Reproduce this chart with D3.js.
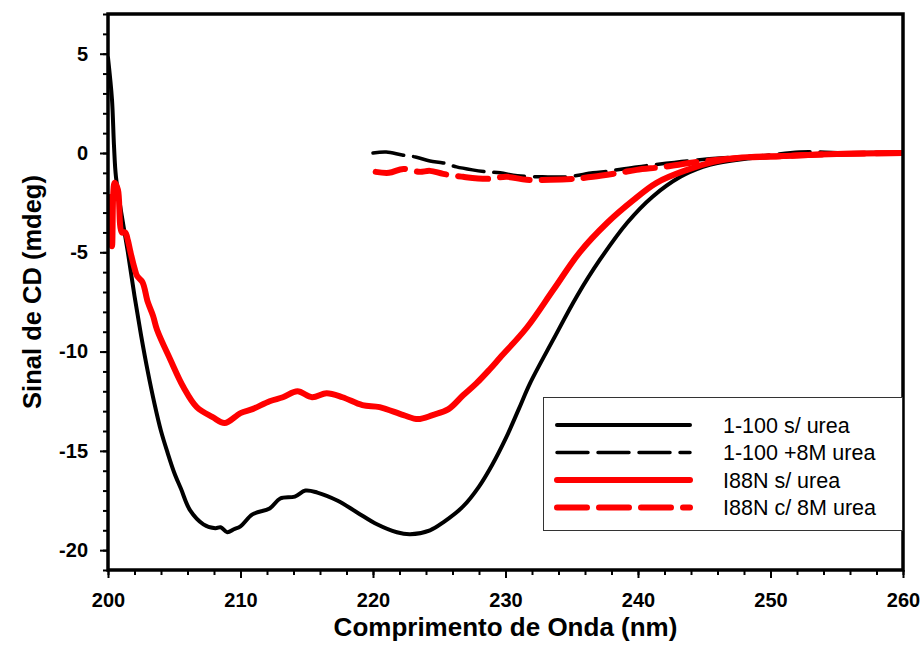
<!DOCTYPE html>
<html>
<head>
<meta charset="utf-8">
<script src="https://cdn.jsdelivr.net/npm/d3@7"></script>
<style>
  body { margin: 0; background: #fff; }
  svg { display: block; font-family: Arial, "Liberation Sans", sans-serif; }
</style>
</head>
<body>
<svg width="920" height="662"></svg>
<script>
// 1-100 s/ urea
const wt = [
  [200.0, 4.8], [200.3, 2.7], [200.45, 0.4], [200.6, -1.2], [201.0, -3.0], [201.5, -5.0],
  [202.0, -7.2], [202.5, -9.2], [203.0, -11.0], [203.5, -12.6], [204.0, -14.0], [204.5, -15.1],
  [205.0, -16.1], [205.5, -16.9], [206.2, -18.0], [207.2, -18.7], [208.1, -18.9], [208.5, -18.85],
  [209.0, -19.1], [209.5, -18.95], [210.0, -18.8], [210.9, -18.2], [212.2, -17.9], [213.0, -17.4],
  [214.1, -17.3], [214.9, -17.0], [215.8, -17.1], [217.3, -17.5], [218.8, -18.1], [220.3, -18.7],
  [221.8, -19.1], [222.8, -19.2], [224.3, -19.0], [225.3, -18.6], [226.8, -17.8], [228.0, -16.8],
  [229.0, -15.7], [230.0, -14.4], [231.0, -12.9], [231.85, -11.6], [233.6, -9.4], [235.4, -7.2],
  [237.1, -5.4], [239.2, -3.5], [241.1, -2.2], [243.2, -1.2], [244.9, -0.7], [246.0, -0.5],
  [248.0, -0.3], [250.0, -0.2], [253.0, -0.1], [256.0, 0.0], [260.0, 0.0]
];
// 1-100 +8M urea
const wtUrea = [
  [220.0, 0.0], [221.0, 0.05], [222.2, -0.1], [223.2, -0.2], [224.3, -0.4], [225.3, -0.5],
  [226.3, -0.7], [227.5, -0.85], [228.6, -0.95], [229.6, -1.0], [230.9, -1.15], [232.8, -1.2],
  [234.6, -1.2], [236.6, -1.0], [237.9, -0.9], [239.9, -0.7], [241.1, -0.6], [243.7, -0.4],
  [246.2, -0.25], [249.2, -0.15], [252.2, 0.05], [256.2, 0.0], [260.0, 0.0]
];
// I88N s/ urea
const mut = [
  [200.0, -2.2], [200.15, -3.5], [200.3, -4.7], [200.5, -1.5], [200.75, -1.85], [201.05, -4.0],
  [201.3, -4.0], [201.5, -4.4], [201.7, -5.0], [202.0, -5.8], [202.2, -6.2], [202.6, -6.5],
  [203.0, -7.5], [203.4, -8.2], [203.7, -8.9], [204.7, -10.4], [205.7, -11.8], [206.7, -12.8],
  [207.9, -13.3], [208.8, -13.6], [210.0, -13.1], [210.9, -12.9], [212.2, -12.5], [213.2, -12.3],
  [214.3, -12.0], [215.4, -12.3], [216.5, -12.1], [217.7, -12.3], [219.2, -12.7], [220.5, -12.8],
  [222.3, -13.2], [223.4, -13.4], [224.5, -13.2], [225.7, -12.9], [226.8, -12.2], [227.8, -11.6],
  [228.8, -10.9], [229.6, -10.3], [231.6, -8.8], [233.6, -6.9], [235.6, -5.0], [237.7, -3.5],
  [239.6, -2.4], [241.4, -1.5], [243.7, -0.85], [245.7, -0.45], [247.5, -0.25], [251.0, -0.15],
  [255.0, -0.05], [260.0, 0.0]
];
// I88N c/ 8M urea
const mutUrea = [
  [220.2, -0.95], [221.2, -1.0], [222.3, -0.8], [223.5, -0.95], [224.3, -0.9], [225.3, -1.05],
  [226.8, -1.2], [228.6, -1.3], [230.1, -1.2], [231.6, -1.35], [233.4, -1.35], [235.1, -1.3],
  [236.6, -1.2], [238.6, -1.0], [239.9, -0.85], [241.9, -0.7], [244.5, -0.45], [247.5, -0.25],
  [251.2, -0.15], [255.0, -0.05], [260.0, 0.0]
];

const seriesNames = ["1-100 s/ urea", "1-100 +8M urea", "I88N s/ urea", "I88N c/ 8M urea"];
const xTicks = [200, 210, 220, 230, 240, 250, 260];
const yTicks = [5, 0, -5, -10, -15, -20];

const series = [
  { name: seriesNames[0], data: wt, color: "#000", width: 4, dash: null },
  { name: seriesNames[1], data: wtUrea, color: "#000", width: 3.5, dash: "31,10" },
  { name: seriesNames[2], data: mut, color: "#ff0000", width: 6, dash: null },
  { name: seriesNames[3], data: mutUrea, color: "#ff0000", width: 6, dash: "30,12" }
];

const svg = d3.select("svg");
const pLeft = 108, pRight = 903, pTop = 14, pBottom = 570;

const x = d3.scaleLinear().domain([200, 260]).range([pLeft, pRight]);
const y = d3.scaleLinear().domain([-21, 7]).range([pBottom, pTop]);

const line = d3.line()
  .x(d => x(d[0]))
  .y(d => y(d[1]))
  .curve(d3.curveCatmullRom.alpha(0.5));

const plot = svg.append("g");
plot.append("clipPath").attr("id", "clip")
  .append("rect").attr("x", pLeft).attr("y", pTop).attr("width", pRight - pLeft).attr("height", pBottom - pTop);

plot.selectAll("path.series")
  .data(series)
  .enter()
  .append("path")
  .attr("class", "series")
  .attr("clip-path", "url(#clip)")
  .attr("fill", "none")
  .attr("stroke", d => d.color)
  .attr("stroke-width", d => d.width)
  .attr("stroke-dasharray", d => d.dash)
  .attr("stroke-linecap", "round")
  .attr("stroke-linejoin", "round")
  .attr("d", d => line(d.data));

// minor ticks
svg.append("g")
  .attr("transform", "translate(0," + pBottom + ")")
  .call(d3.axisBottom(x).tickValues(d3.range(200, 261, 2)).tickSize(5).tickFormat(""))
  .call(g => g.select(".domain").remove());
svg.append("g")
  .attr("transform", "translate(" + pLeft + ",0)")
  .call(d3.axisLeft(y).tickValues(d3.range(-21, 8, 1)).tickSize(5).tickFormat(""))
  .call(g => g.select(".domain").remove());

// major ticks + labels (plain hyphen for negatives, as in the original)
const fmt = d => String(d);
const xAxis = svg.append("g")
  .attr("transform", "translate(0," + pBottom + ")")
  .call(d3.axisBottom(x).tickValues(xTicks).tickSize(8).tickPadding(15).tickFormat(fmt));
xAxis.select(".domain").remove();
xAxis.selectAll("text").attr("font-size", 20).attr("font-weight", "bold").attr("fill", "#000");

const yAxis = svg.append("g")
  .attr("transform", "translate(" + pLeft + ",0)")
  .call(d3.axisLeft(y).tickValues(yTicks).tickSize(8).tickPadding(12).tickFormat(fmt));
yAxis.select(".domain").remove();
yAxis.selectAll("text").attr("font-size", 20).attr("font-weight", "bold").attr("fill", "#000");

svg.selectAll(".tick line").attr("stroke", "#000").attr("stroke-width", 2);

// frame
svg.append("rect")
  .attr("x", pLeft).attr("y", pTop)
  .attr("width", pRight - pLeft).attr("height", pBottom - pTop)
  .attr("fill", "none").attr("stroke", "#000").attr("stroke-width", 3.5);

// axis titles
svg.append("text")
  .attr("x", (pLeft + pRight) / 2).attr("y", 636)
  .attr("text-anchor", "middle")
  .attr("font-size", 26).attr("font-weight", "bold")
  .text("Comprimento de Onda (nm)");

svg.append("text")
  .attr("transform", "translate(41," + ((pTop + pBottom) / 2) + ") rotate(-90)")
  .attr("text-anchor", "middle")
  .attr("font-size", 25.5).attr("font-weight", "bold")
  .text("Sinal de CD (mdeg)");

// legend
const legend = svg.append("g");
legend.append("rect")
  .attr("x", 543.5).attr("y", 397.5).attr("width", 359).attr("height", 133)
  .attr("fill", "#fff").attr("stroke", "#333").attr("stroke-width", 1);

const rows = legend.selectAll("g.row")
  .data(series)
  .enter()
  .append("g")
  .attr("class", "row")
  .attr("transform", (d, i) => "translate(0," + (425 + i * 27.5) + ")");

rows.append("line")
  .attr("x1", 557).attr("x2", 690)
  .attr("stroke", d => d.color)
  .attr("stroke-width", d => d.width)
  .attr("stroke-dasharray", d => d.dash)
  .attr("stroke-linecap", "round");

rows.append("text")
  .attr("x", 723).attr("y", 7.5)
  .attr("font-size", 21.5)
  .text(d => d.name);
</script>
</body>
</html>
